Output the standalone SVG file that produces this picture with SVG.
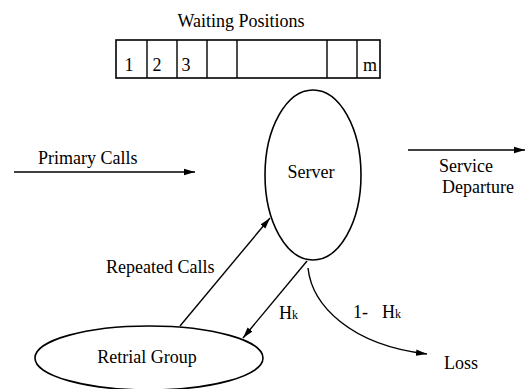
<svg xmlns="http://www.w3.org/2000/svg" width="526" height="389" viewBox="0 0 526 389">
<style>
text{font-family:"Liberation Serif","Times New Roman",serif;font-size:18px;fill:#000}
.ln{fill:none;stroke:#000;stroke-width:1.4}
.sh{fill:none;stroke:#000;stroke-width:1.6}
</style>
<defs>
<marker id="ah" markerUnits="userSpaceOnUse" markerWidth="12" markerHeight="8" refX="11" refY="4" orient="auto">
<path d="M0,0.8 L11,4 L0,7.2 Z" fill="#000"/>
</marker>
</defs>
<rect width="526" height="389" fill="#fff"/>
<g id="waiting-positions">
<text x="241" y="27" text-anchor="middle" font-size="17">Waiting Positions</text>
<rect class="sh" x="116" y="40" width="264" height="38"/>
<path class="ln" d="M147,40V78M177,40V78M207,40V78M237,40V78M327,40V78M357,40V78"/>
<text x="129" y="71" text-anchor="middle">1</text>
<text x="157" y="71" text-anchor="middle">2</text>
<text x="186" y="71" text-anchor="middle">3</text>
<text x="370" y="71" text-anchor="middle">m</text>
</g>
<g id="server">
<ellipse class="sh" cx="313" cy="175" rx="48" ry="85"/>
<text x="311" y="178" text-anchor="middle">Server</text>
</g>
<g id="retrial-group">
<ellipse class="sh" cx="149" cy="358" rx="114" ry="32"/>
<text x="147" y="363" text-anchor="middle">Retrial Group</text>
</g>
<g id="connectors">
<line class="ln" x1="14" y1="172" x2="195" y2="172" marker-end="url(#ah)"/>
<line class="ln" x1="408" y1="150" x2="525" y2="150" marker-end="url(#ah)"/>
<line class="ln" x1="180" y1="326" x2="270" y2="218" marker-end="url(#ah)"/>
<line class="ln" x1="307" y1="261" x2="243" y2="338" marker-end="url(#ah)"/>
<path class="ln" d="M308,268 C312,305 350,345 427,354" marker-end="url(#ah)"/>
</g>
<g id="labels">
<text x="38" y="164">Primary Calls</text>
<text x="439" y="172">Service</text>
<text x="442" y="193">Departure</text>
<text x="106" y="273">Repeated Calls</text>
<text x="279" y="319">H<tspan font-size="12">k</tspan></text>
<text x="353" y="318">1-</text>
<text x="382" y="318">H<tspan font-size="12">k</tspan></text>
<text x="444" y="369">Loss</text>
</g>
</svg>
